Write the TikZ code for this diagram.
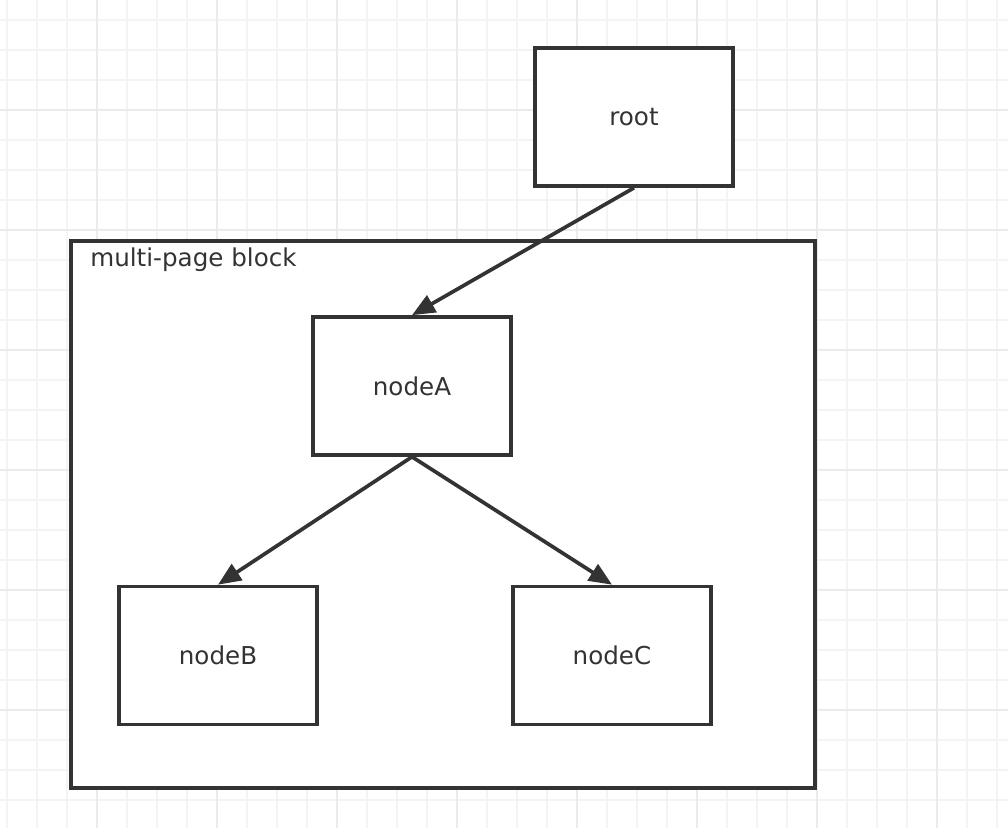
\documentclass[tikz,border=0pt]{standalone}
\usepackage{fontspec}
\setmainfont{DejaVu Sans}
\usetikzlibrary{arrows.meta}
\definecolor{ink}{HTML}{333333}
\definecolor{gridminor}{HTML}{F4F4F4}
\definecolor{gridmajor}{HTML}{EBEBEB}

\begin{document}
\begin{tikzpicture}[x=0.02cm,y=-0.02cm]
\tikzset{box/.style = {shape=rectangle,draw=ink,fill=white,line width=2.1pt,minimum width=3.96cm,minimum height=2.76cm,text=ink,font=\fontsize{14}{16}\selectfont}}
\tikzset{edge/.style = {draw=ink,line width=2.1pt,-{Triangle[length=0.46cm,width=0.38cm]}}}
\useasboundingbox (0,0) rectangle (1008,828);
\fill[white] (0,0) rectangle (1008,828);

% background grid
\foreach \x in {7,37,...,997} \draw[gridminor, line width=1.1pt] (\x,0) -- (\x,828);
\foreach \y in {20,50,...,800} \draw[gridminor, line width=1.1pt] (0,\y) -- (1008,\y);
\foreach \x in {97,217,...,937} \draw[gridmajor, line width=1.1pt] (\x,0) -- (\x,828);
\foreach \y in {110,230,...,710} \draw[gridmajor, line width=1.1pt] (0,\y) -- (1008,\y);

\node[box, minimum width=14.88cm, minimum height=10.94cm] (block) at (443,514.5) {};
\node[anchor=base west, inner sep=0pt, text=ink, font=\fontsize{14}{16}\selectfont] (blocklabel) at (90,266) {multi-page block};

\node[box] (root) at (634,117) {root};
\node[box] (nodeA) at (412,386) {nodeA};
\node[box] (nodeB) at (218,655.5) {nodeB};
\node[box] (nodeC) at (612,655.5) {nodeC};

\draw[edge] (root.south) to (nodeA.north);
\draw[edge] (nodeA.south) to (nodeB.north);
\draw[edge] (nodeA.south) to (nodeC.north);
\end{tikzpicture}
\end{document}
